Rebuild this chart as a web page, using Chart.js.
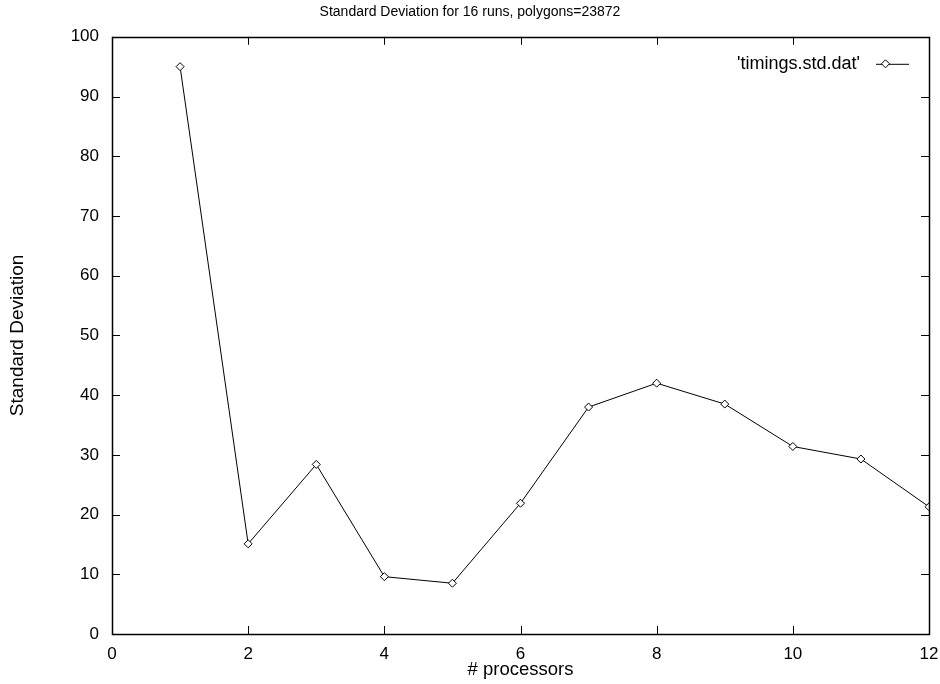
<!DOCTYPE html>
<html>
<head>
<meta charset="utf-8">
<title>Standard Deviation</title>
<script src="https://cdn.jsdelivr.net/npm/chart.js@4/dist/chart.umd.min.js"></script>
<style>
  body { margin: 0; background: #fff; }
  canvas { display: block; }
</style>
</head>
<body>
<canvas id="stdChart" width="940" height="684"></canvas>
<script>
// data
const processors = [1, 2, 3, 4, 5, 6, 7, 8, 9, 10, 11, 12];
const stdDev = [95.0, 15.1, 28.4, 9.6, 8.5, 21.9, 38.0, 42.0, 38.5, 31.4, 29.3, 21.3];
const xTicks = [0, 2, 4, 6, 8, 10, 12];
const yTicks = [0, 10, 20, 30, 40, 50, 60, 70, 80, 90, 100];
const seriesLabel = "'timings.std.dat'";

const FONT = "'Liberation Sans', Arial, sans-serif";

// gnuplot style frame: box + inward ticks on every side, legend top right
const framePlugin = {
  id: 'frame',
  afterDatasetsDraw(chart) {
    const ctx = chart.ctx;
    const a = chart.chartArea;
    const xs = chart.scales.x, ys = chart.scales.y;
    const len = 8;
    ctx.save();
    ctx.strokeStyle = '#000';
    ctx.lineWidth = 1;
    ctx.beginPath();
    xTicks.forEach(function (v) {
      const px = Math.round(xs.getPixelForValue(v)) + 0.5;
      ctx.moveTo(px, a.bottom); ctx.lineTo(px, a.bottom - len);
      ctx.moveTo(px, a.top); ctx.lineTo(px, a.top + len);
    });
    yTicks.forEach(function (v) {
      const py = Math.round(ys.getPixelForValue(v)) + 0.5;
      ctx.moveTo(a.left, py); ctx.lineTo(a.left + len, py);
      ctx.moveTo(a.right, py); ctx.lineTo(a.right - len, py);
    });
    ctx.stroke();
    ctx.lineWidth = 1.5;
    ctx.strokeRect(Math.round(a.left) + 0.5, Math.round(a.top) + 0.5,
      Math.round(a.right - a.left), Math.round(a.bottom - a.top));

    // legend
    const ds = chart.data.datasets[0];
    const ly = a.top + 27;
    const lineL = a.right - 53, lineR = a.right - 20;
    ctx.font = '18px ' + FONT;
    ctx.fillStyle = '#000';
    ctx.textAlign = 'right';
    ctx.textBaseline = 'middle';
    ctx.fillText(ds.label, lineL - 16, ly);
    ctx.lineWidth = 1;
    ctx.beginPath();
    ctx.moveTo(lineL, ly + 0.5); ctx.lineTo(lineR, ly + 0.5);
    ctx.stroke();
    const cx = (lineL + lineR) / 2 - 7, r = 4;
    ctx.beginPath();
    ctx.moveTo(cx, ly - r); ctx.lineTo(cx + r, ly); ctx.lineTo(cx, ly + r); ctx.lineTo(cx - r, ly);
    ctx.closePath();
    ctx.fillStyle = '#fff';
    ctx.fill();
    ctx.stroke();
    ctx.restore();
  }
};

const ctx = document.getElementById('stdChart').getContext('2d');
const stdChart = new Chart(ctx, {
  type: 'line',
  data: {
    datasets: [{
      label: seriesLabel,
      data: processors.map(function (p, i) { return { x: p, y: stdDev[i] }; }),
      borderColor: '#000',
      borderWidth: 1,
      backgroundColor: '#fff',
      pointStyle: 'rectRot',
      pointRadius: 4,
      pointBorderWidth: 1,
      pointBorderColor: '#000',
      pointBackgroundColor: '#fff',
      fill: false,
      tension: 0
    }]
  },
  options: {
    responsive: false,
    animation: false,
    layout: { padding: 0 },
    plugins: {
      legend: { display: false },
      tooltip: { enabled: false },
      title: {
        display: true,
        text: 'Standard Deviation for 16 runs, polygons=23872',
        color: '#000',
        font: { family: FONT, size: 14, weight: 'normal' },
        padding: { top: 4, bottom: 16 }
      }
    },
    scales: {
      x: {
        type: 'linear',
        min: 0,
        max: 12,
        afterBuildTicks: function (s) { s.ticks = xTicks.map(function (v) { return { value: v }; }); },
        afterFit: function (s) { s.height = 50; s.paddingLeft = 0; s.paddingRight = 11; },
        grid: { display: false, drawTicks: false },
        border: { display: false },
        ticks: { color: '#000', padding: 10, font: { family: FONT, size: 17 } },
        title: {
          display: true,
          text: '# processors',
          color: '#000',
          font: { family: FONT, size: 18.5 },
          padding: { top: 0, bottom: 3 }
        }
      },
      y: {
        min: 0,
        max: 100,
        afterBuildTicks: function (s) { s.ticks = yTicks.map(function (v) { return { value: v }; }); },
        afterFit: function (s) { s.width = 112; },
        grid: { display: false, drawTicks: false },
        border: { display: false },
        ticks: { color: '#000', padding: 13, font: { family: FONT, size: 17 } },
        title: {
          display: true,
          text: 'Standard Deviation',
          color: '#000',
          font: { family: FONT, size: 19 },
          padding: { top: 6, bottom: 0 }
        }
      }
    }
  },
  plugins: [framePlugin]
});
</script>
</body>
</html>
